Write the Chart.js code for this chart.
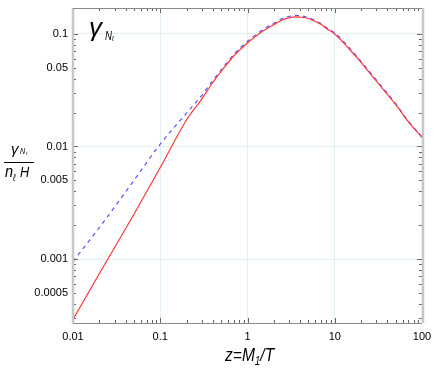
<!DOCTYPE html>
<html lang="en">
<head>
    <meta charset="UTF-8">
    <title>gamma N rate</title>
    <script src="https://cdn.jsdelivr.net/npm/chart.js"></script>
    <style>
        body { margin: 0; background: #fff; }
        #chartCanvas { display: block; }
    </style>
</head>
<body>
<canvas id="chartCanvas" width="436" height="382"></canvas>
<script>
    // valores
    const zValues = [0.01, 0.02, 0.05, 0.1, 0.2, 0.3, 0.4, 0.5, 0.7, 1, 1.5, 2, 2.5, 3, 3.5, 4, 5, 6, 7, 8, 10, 15, 20, 30, 50, 70, 100];
    const gammaFull = [0.00029, 0.00074, 0.0025, 0.0065, 0.0172, 0.0265, 0.037, 0.0465, 0.064, 0.083, 0.106, 0.121, 0.133, 0.139, 0.142, 0.141, 0.137, 0.129, 0.121, 0.112, 0.1, 0.072, 0.056, 0.038, 0.0235, 0.0165, 0.012];
    const gammaApprox = [0.00095, 0.0019, 0.005, 0.0105, 0.0198, 0.0285, 0.0385, 0.048, 0.066, 0.086, 0.109, 0.124, 0.137, 0.143, 0.146, 0.145, 0.14, 0.132, 0.123, 0.114, 0.102, 0.074, 0.057, 0.039, 0.024, 0.0168, 0.0122];
    const xTickValues = [0.01, 0.1, 1, 10, 100];
    const yTickValues = [0.0005, 0.001, 0.005, 0.01, 0.05, 0.1];

    const sans = "'Liberation Sans', Arial, sans-serif";

    function isDecade(v) {
        const l = Math.log10(v);
        return Math.abs(l - Math.round(l)) < 1e-6;
    }

    // texto comprimido horizontalmente (imita letra estrecha)
    function narrowText(ctx, text, x, y, size, sx) {
        ctx.save();
        ctx.font = 'italic ' + size + 'px ' + sans;
        ctx.translate(x, y);
        ctx.scale(sx, 1);
        ctx.fillText(text, 0, 0);
        const w = ctx.measureText(text).width * sx;
        ctx.restore();
        return x + w;
    }

    const framePlugin = {
        id: 'frame',
        afterDatasetsDraw(chart) {
            const ctx = chart.ctx;
            const xs = chart.scales.x, ys = chart.scales.y;
            const { left, right, top, bottom } = chart.chartArea;
            ctx.save();
            // marcas menores hacia dentro
            ctx.strokeStyle = '#666';
            ctx.lineWidth = 1;
            ctx.beginPath();
            for (let e = -4; e <= 2; e++) {
                for (let m = 1; m <= 9; m++) {
                    const v = m * Math.pow(10, e);
                    const len = m === 1 ? 5 : 3;
                    if (v >= xs.min && v <= xs.max) {
                        const px = Math.round(xs.getPixelForValue(v)) + 0.5;
                        ctx.moveTo(px, bottom); ctx.lineTo(px, bottom - len);
                        ctx.moveTo(px, top); ctx.lineTo(px, top + len);
                    }
                    if (v >= ys.min && v <= ys.max) {
                        const py = Math.round(ys.getPixelForValue(v)) + 0.5;
                        ctx.moveTo(left, py); ctx.lineTo(left + len, py);
                        ctx.moveTo(right, py); ctx.lineTo(right - len, py);
                    }
                }
            }
            ctx.stroke();
            // marco
            ctx.strokeStyle = '#c8c8c8';
            ctx.lineWidth = 2.5;
            ctx.beginPath();
            ctx.moveTo(left, top); ctx.lineTo(left, bottom);
            ctx.moveTo(right + 1, top); ctx.lineTo(right + 1, bottom);
            ctx.stroke();
            ctx.strokeStyle = '#8a8a8a';
            ctx.lineWidth = 1;
            ctx.beginPath();
            ctx.moveTo(left, top + 0.5); ctx.lineTo(right, top + 0.5);
            ctx.moveTo(left, bottom + 0.5); ctx.lineTo(right, bottom + 0.5);
            ctx.stroke();
            ctx.restore();
        },
        afterDraw(chart) {
            const ctx = chart.ctx;
            ctx.save();
            ctx.fillStyle = '#000';
            ctx.textBaseline = 'alphabetic';
            ctx.textAlign = 'left';
            // etiqueta dentro del grafico
            ctx.font = "italic 26px " + sans;
            ctx.fillText('γ', 89, 36);
            narrowText(ctx, 'N', 105, 40, 12, 0.8);
            narrowText(ctx, 'ℓ', 112, 41, 7, 0.8);
            // titulo eje y (fraccion)
            ctx.font = "italic 15px " + sans;
            ctx.fillText('γ', 11, 154);
            narrowText(ctx, 'N', 20, 154, 9, 0.8);
            narrowText(ctx, 'ℓ', 26, 155, 5, 0.8);
            ctx.strokeStyle = '#000';
            ctx.lineWidth = 1;
            ctx.beginPath();
            ctx.moveTo(4, 162.5); ctx.lineTo(34, 162.5);
            ctx.stroke();
            narrowText(ctx, 'n', 5, 177, 17, 0.85);
            narrowText(ctx, 'ℓ', 13, 181, 10, 0.8);
            narrowText(ctx, 'H', 20, 177, 15, 0.85);
            // titulo eje x
            let x = narrowText(ctx, 'z=M', 225, 361, 19, 0.82);
            x = narrowText(ctx, '1', x, 365, 12, 0.82);
            narrowText(ctx, '/T', x, 361, 19, 0.82);
            ctx.restore();
        }
    };

    const ctx = document.getElementById('chartCanvas').getContext('2d');
    const chart = new Chart(ctx, {
        type: 'line',
        data: {
            datasets: [
                {
                    label: 'full',
                    data: zValues.map((z, i) => ({ x: z, y: gammaFull[i] })),
                    borderColor: 'rgb(255, 55, 55)',
                    borderWidth: 1.2,
                    pointRadius: 0,
                    cubicInterpolationMode: 'monotone',
                    fill: false
                },
                {
                    label: 'approx',
                    data: zValues.map((z, i) => ({ x: z, y: gammaApprox[i] })),
                    borderColor: 'rgb(85, 85, 255)',
                    borderWidth: 1.2,
                    borderDash: [4, 4],
                    pointRadius: 0,
                    cubicInterpolationMode: 'monotone',
                    fill: false
                }
            ]
        },
        options: {
            responsive: false,
            animation: false,
            layout: { padding: { left: 0, right: 14, top: 8, bottom: 0 } },
            plugins: {
                legend: { display: false },
                tooltip: { enabled: false }
            },
            scales: {
                x: {
                    type: 'logarithmic',
                    min: 0.01,
                    max: 100,
                    afterBuildTicks: s => { s.ticks = xTickValues.map(v => ({ value: v })); },
                    afterFit: s => { s.height = 59; s.paddingLeft = 0; s.paddingRight = 0; },
                    border: { display: false },
                    grid: {
                        drawTicks: false,
                        color: c => isDecade(c.tick.value) ? '#e2efef' : 'rgba(0,0,0,0)'
                    },
                    ticks: {
                        autoSkip: false,
                        maxRotation: 0,
                        padding: 7,
                        color: '#000',
                        font: { family: sans, size: 11 },
                        callback: v => String(v)
                    }
                },
                y: {
                    type: 'logarithmic',
                    min: 0.00027,
                    max: 0.17,
                    afterBuildTicks: s => { s.ticks = yTickValues.map(v => ({ value: v })); },
                    afterFit: s => { s.width = 73; s.paddingTop = 0; s.paddingBottom = 0; },
                    border: { display: false },
                    grid: {
                        drawTicks: false,
                        color: c => isDecade(c.tick.value) ? '#e2efef' : 'rgba(0,0,0,0)'
                    },
                    ticks: {
                        autoSkip: false,
                        padding: 5,
                        color: '#000',
                        font: { family: sans, size: 11 },
                        callback: v => String(v)
                    }
                }
            }
        },
        plugins: [framePlugin]
    });
</script>
</body>
</html>
